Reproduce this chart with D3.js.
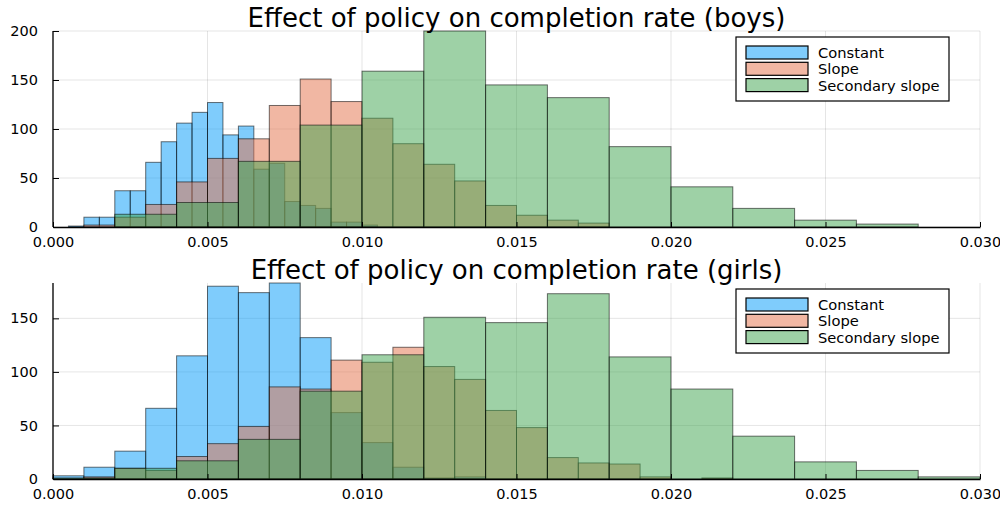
<!DOCTYPE html>
<html>
<head>
<meta charset="utf-8">
<script src="https://cdn.jsdelivr.net/npm/d3@7"></script>
<style>
  body { margin: 0; background: #fff; }
  svg { display: block; font-family: "DejaVu Sans", sans-serif; }
  .tick text { font-size: 14.5px; fill: #000; }
</style>
</head>
<body>
<div id="chart"></div>
<script>
// series names and colours (Plots.jl default palette)
const seriesNames = ['Constant', 'Slope', 'Secondary slope'];
const seriesColors = ['#009AFA', '#E36F47', '#3EA44E'];

const xTicks = [0, 0.005, 0.010, 0.015, 0.020, 0.025, 0.030];
const boysYTicks = [0, 50, 100, 150, 200];
const girlsYTicks = [0, 50, 100, 150];

// boys: histogram counts, with first bin edge and bin width of each series
const boysConstantStart = 0.0005;
const boysConstantWidth = 0.0005;
const boysConstant = [1, 10, 10, 37, 37, 66, 87, 106, 117, 127, 94, 103, 59, 65, 26, 22, 19, 5, 5, 2];
const boysSlopeStart = 0;
const boysSlopeWidth = 0.001;
const boysSlope = [0, 2, 10, 23, 46, 70, 90, 124, 151, 128, 111, 85, 64, 47, 22, 12, 7, 4];
const boysSecondaryStart = 0.002;
const boysSecondaryWidth = 0.002;
const boysSecondary = [13, 25, 67, 104, 159, 200, 145, 132, 82, 41, 19, 7, 3];

// girls
const girlsConstantStart = 0;
const girlsConstantWidth = 0.001;
const girlsConstant = [3, 11, 26, 66, 115, 180, 174, 183, 132, 62, 34, 11, 1, 2];
const girlsSlopeStart = 0;
const girlsSlopeWidth = 0.001;
const girlsSlope = [0, 2, 10, 8, 21, 33, 49, 86, 84, 111, 109, 123, 105, 93, 64, 48, 20, 15, 14, 2, 0, 1];
const girlsSecondaryStart = 0;
const girlsSecondaryWidth = 0.002;
const girlsSecondary = [1, 10, 17, 37, 82, 116, 151, 146, 173, 114, 84, 40, 16, 8, 2];

const width = 1000;
const height = 508;

const svg = d3.select('#chart')
    .append('svg')
    .attr('width', width)
    .attr('height', height);

const toBins = function(counts, start, w) {
  return counts.map(function(c, i) {
    return {x0: start + i * w, x1: start + (i + 1) * w, count: c};
  }).filter(function(d) {
    return d.count > 0;
  });
};

const drawPanel = function(cfg) {
  const x = d3.scaleLinear().domain([0, 0.03]).range([53, 980]);
  const y = d3.scaleLinear().domain([0, cfg.yMax]).range([cfg.bottom, cfg.top]);
  const g = svg.append('g');

  // grid
  g.append('g').selectAll('line.gx')
      .data(xTicks)
      .enter()
      .append('line')
      .attr('x1', function(d) { return x(d); })
      .attr('x2', function(d) { return x(d); })
      .attr('y1', cfg.top)
      .attr('y2', cfg.bottom)
      .attr('stroke', '#000')
      .attr('stroke-opacity', 0.1);
  g.append('g').selectAll('line.gy')
      .data(cfg.yTicks)
      .enter()
      .append('line')
      .attr('x1', x(0))
      .attr('x2', x(0.03))
      .attr('y1', function(d) { return y(d); })
      .attr('y2', function(d) { return y(d); })
      .attr('stroke', '#000')
      .attr('stroke-opacity', 0.1);

  // bars, one series at a time so later ones sit on top
  cfg.series.forEach(function(s, si) {
    g.append('g').selectAll('rect')
        .data(toBins(s.counts, s.start, s.width))
        .enter()
        .append('rect')
        .attr('x', function(d) { return x(d.x0); })
        .attr('width', function(d) { return x(d.x1) - x(d.x0); })
        .attr('y', function(d) { return y(d.count); })
        .attr('height', function(d) { return y(0) - y(d.count); })
        .attr('fill', seriesColors[si])
        .attr('fill-opacity', 0.5)
        .attr('stroke', '#000')
        .attr('stroke-opacity', 0.55)
        .attr('stroke-width', 1);
  });

  // axes
  const xAxis = d3.axisBottom(x)
      .tickValues(xTicks)
      .tickFormat(d3.format('.3f'))
      .tickSizeInner(-5)
      .tickSizeOuter(0)
      .tickPadding(10);
  const yAxis = d3.axisLeft(y)
      .tickValues(cfg.yTicks)
      .tickFormat(d3.format('d'))
      .tickSizeInner(-6)
      .tickSizeOuter(0)
      .tickPadding(15);

  const ya = g.append('g')
      .attr('transform', 'translate(' + x(0) + ',0)')
      .call(yAxis);
  ya.select('.domain').attr('d', 'M0,' + cfg.top + 'V' + cfg.bottom);
  g.append('g')
      .attr('transform', 'translate(0,' + cfg.bottom + ')')
      .call(xAxis);
  g.selectAll('.domain').attr('stroke', '#000').attr('stroke-width', 1.3);
  g.selectAll('.tick line').attr('stroke', '#000');
  g.selectAll('.tick text').attr('font-family', '"DejaVu Sans", sans-serif');

  // title
  svg.append('text')
      .attr('x', (x(0) + x(0.03)) / 2)
      .attr('y', cfg.titleY)
      .attr('text-anchor', 'middle')
      .attr('font-size', 26)
      .attr('fill', '#000')
      .text(cfg.title);

  // legend
  const lx = 736;
  const ly = cfg.top + 6;
  const legend = svg.append('g');
  legend.append('rect')
      .attr('x', lx)
      .attr('y', ly)
      .attr('width', 213)
      .attr('height', 64)
      .attr('fill', '#fff')
      .attr('stroke', '#000')
      .attr('stroke-width', 1.2);
  const rows = legend.selectAll('.legend')
      .data(seriesNames)
      .enter()
      .append('g')
      .attr('class', 'legend')
      .attr('transform', function(d, i) {
        return 'translate(' + (lx + 10) + ',' + (ly + 9 + i * 16.3) + ')';
      });
  rows.append('rect')
      .attr('width', 62)
      .attr('height', 13)
      .attr('fill', function(d, i) { return seriesColors[i]; })
      .attr('fill-opacity', 0.5)
      .attr('stroke', '#000')
      .attr('stroke-width', 1.2);
  rows.append('text')
      .attr('x', 72)
      .attr('y', 12)
      .attr('font-size', 14.7)
      .attr('fill', '#000')
      .text(function(d) { return d; });
};

drawPanel({
  title: 'Effect of policy on completion rate (boys)',
  titleY: 27,
  top: 31,
  bottom: 227,
  yMax: 200,
  yTicks: boysYTicks,
  series: [
    {counts: boysConstant, start: boysConstantStart, width: boysConstantWidth},
    {counts: boysSlope, start: boysSlopeStart, width: boysSlopeWidth},
    {counts: boysSecondary, start: boysSecondaryStart, width: boysSecondaryWidth},
  ],
});

drawPanel({
  title: 'Effect of policy on completion rate (girls)',
  titleY: 279,
  top: 283,
  bottom: 479,
  yMax: 183,
  yTicks: girlsYTicks,
  series: [
    {counts: girlsConstant, start: girlsConstantStart, width: girlsConstantWidth},
    {counts: girlsSlope, start: girlsSlopeStart, width: girlsSlopeWidth},
    {counts: girlsSecondary, start: girlsSecondaryStart, width: girlsSecondaryWidth},
  ],
});
</script>
</body>
</html>
